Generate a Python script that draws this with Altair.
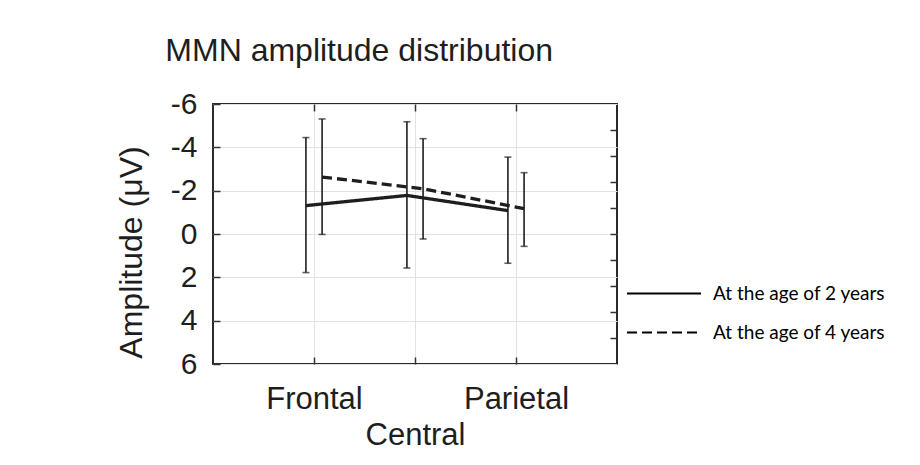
import altair as alt
import pandas as pd

regions = ["Frontal", "Central", "Parietal"]
ages = ["At the age of 2 years", "At the age of 4 years"]
mean_2y = [-1.31, -1.78, -1.08]
top_2y = [-4.45, -5.18, -3.55]
bottom_2y = [1.78, 1.57, 1.35]
mean_4y = [-2.63, -2.09, -1.17]
top_4y = [-5.31, -4.40, -2.83]
bottom_4y = [0.02, 0.23, 0.57]
y_ticks = [-6, -4, -2, 0, 2, 4, 6]
right_ticks = [1, 2, 3, 4, 5, 6, 7, 8, 9]

rows = []
for i, r in enumerate(regions):
    rows.append({"region": r, "idx": i + 1, "age": ages[0],
                 "mean": mean_2y[i], "lo": top_2y[i], "hi": bottom_2y[i]})
    rows.append({"region": r, "idx": i + 1, "age": ages[1],
                 "mean": mean_4y[i], "lo": top_4y[i], "hi": bottom_4y[i]})
df = pd.DataFrame(rows)

FONT = "Liberation Sans"
INK = "#1e1e1e"

x_scale = alt.Scale(domain=[0, 4], nice=False, zero=False)
y_scale = alt.Scale(domain=[-6, 6], reverse=True, nice=False, zero=False)

base = alt.Chart(df).transform_calculate(
    xpos=f"datum.idx + (datum.age == '{ages[0]}' ? -0.08 : 0.08)"
)

x_bottom = alt.Axis(
    orient="bottom", values=[1, 2, 3],
    labelExpr="datum.value == 1 ? 'Frontal' : datum.value == 3 ? 'Parietal' : ''",
    title="Central", titleFont=FONT, titleFontSize=31, titleFontWeight="normal",
    titleColor=INK, titlePadding=6,
    labelFont=FONT, labelFontSize=31, labelColor=INK, labelPadding=20,
    labelFlush=False, labelOverlap=False,
    tickSize=7, offset=-7, tickColor="#333", tickWidth=1.5,
    domain=False, grid=True, gridColor="#e2e2e2", gridWidth=1,
)
y_left = alt.Axis(
    orient="left", values=y_ticks, labelExpr="'' + datum.value",
    title="Amplitude (μV)", titleFont=FONT, titleFontSize=32, titleFontWeight="normal",
    titleColor=INK, titlePadding=22, titleY=148,
    labelFont=FONT, labelFontSize=30, labelColor=INK, labelPadding=16,
    labelFlush=False, labelOverlap=False,
    tickSize=7, offset=-7, tickColor="#333", tickWidth=1.5,
    domain=False, grid=True, gridColor="#e2e2e2", gridWidth=1,
)

lines = base.mark_line(strokeWidth=3.3, color=INK, strokeCap="butt").encode(
    x=alt.X("xpos:Q", scale=x_scale, axis=x_bottom),
    y=alt.Y("mean:Q", scale=y_scale, axis=y_left),
    strokeDash=alt.StrokeDash(
        "age:N",
        scale=alt.Scale(domain=ages, range=[[1, 0], [10, 5]]),
        legend=alt.Legend(
            orient="none", legendX=413, legendY=170, title=None,
            symbolType="stroke", symbolSize=5476, symbolStrokeWidth=2,
            symbolStrokeColor="black",
            labelFont="Lato", labelFontSize=19, labelColor="black",
            labelOffset=11, rowPadding=0, clipHeight=39, labelLimit=400,
        ),
    ),
    order="xpos:Q",
)

errs = base.mark_errorbar(
    ticks={"size": 7, "thickness": 1.6, "color": INK},
    thickness=1.6, color=INK,
).encode(
    x=alt.X("xpos:Q", scale=x_scale, axis=x_bottom),
    y=alt.Y("lo:Q", scale=y_scale, axis=y_left),
    y2="hi:Q",
)

main = alt.layer(lines, errs)

frame = alt.Chart(df).mark_point(opacity=0).encode(
    x=alt.X("idx:Q", scale=x_scale, axis=alt.Axis(
        orient="top", values=[1, 2, 3], labels=False, title=None,
        tickSize=7, offset=-7, tickColor="#333", tickWidth=1.5,
        domain=False, grid=False)),
    y=alt.Y("mean:Q", scale=alt.Scale(domain=[0, 10], nice=False, zero=False),
            axis=alt.Axis(orient="right", values=right_ticks, labels=False,
                          title=None, tickSize=7, offset=-7, tickColor="#333",
                          tickWidth=1.5, domain=False, grid=False)),
)

chart = alt.layer(main, frame).resolve_scale(
    y="independent"
).resolve_axis(x="independent").properties(
    width=404, height=260,
    autosize=alt.AutoSizeParams(type="none"),
    padding={"left": 205, "top": 96, "right": 295, "bottom": 93},
    title=alt.TitleParams(
        "MMN amplitude distribution", anchor="start", dx=50, dy=14,
        font=FONT, fontSize=32, fontWeight="normal", color=INK,
        baseline="alphabetic", offset=10,
    ),
).configure(
    background="white",
).configure_view(
    stroke="#2a2a2a", strokeWidth=2,
)

chart.save("out.html", embed_options={"renderer": "svg", "actions": False})
